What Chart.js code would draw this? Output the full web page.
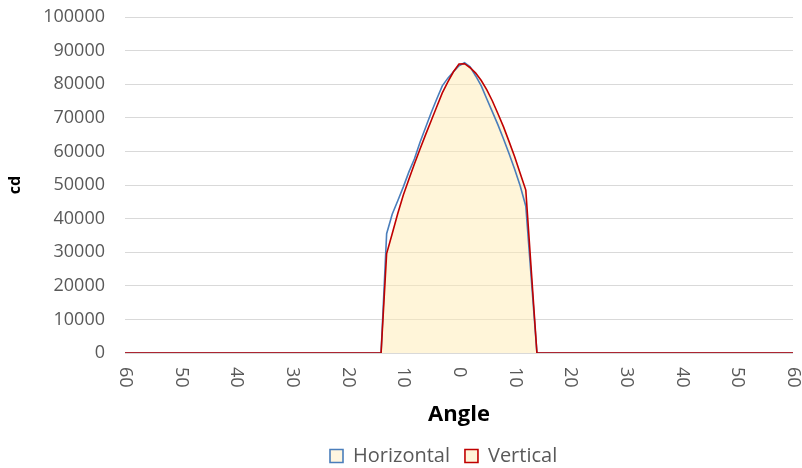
<!DOCTYPE html>
<html>
<head>
<meta charset="utf-8">
<script src="https://cdn.jsdelivr.net/npm/chart.js@4/dist/chart.umd.min.js"></script>
<style>
html,body{margin:0;padding:0;background:#ffffff;}
canvas{display:block;}
</style>
</head>
<body>
<canvas id="chart" width="802" height="468"></canvas>
<script>
// ---- data ----
const angles = [-60,-50,-40,-30,-20,-14,-13,-12,-11,-10,-9,-8,-7,-6,-5,-4,-3,-2,-1,0,1,2,3,4,5,6,7,8,9,10,11,12,14,20,30,40,50,60];
const horizontal = [0,0,0,0,0,0,35500,41300,45300,49450,53900,57800,62700,67100,71500,75600,79500,81800,83700,85500,86400,85200,82450,79500,75600,71750,67900,63700,59300,54700,49700,43700,0,0,0,0,0,0];
const vertical = [0,0,0,0,0,0,29600,35500,41500,47000,51700,56300,60700,65000,69100,73300,77400,80700,83700,86000,86100,84900,83300,81100,78300,75000,71200,67300,62900,58400,53400,48500,0,0,0,0,0,0];
const seriesNames = ['Horizontal','Vertical'];
const xTickValues = [-60,-50,-40,-30,-20,-10,0,10,20,30,40,50,60];
const xTickLabels = ['60','50','40','30','20','10','0','10','20','30','40','50','60'];
const yMin = 0, yMax = 100000, yStep = 10000;
const xTitle = 'Angle';
const yTitle = 'cd';

// ---- style ----
const FONT = '"Open Sans", "Noto Sans", sans-serif';
const TICK_COLOR = '#595959';
const BLUE = '#4A7EBB';
const RED = '#C00000';
const CREAM = 'rgba(255,236,179,0.5)';

const toPoints = (ys) => angles.map((a, i) => ({x: a, y: ys[i]}));

const xTickLabelPlugin = {
  id: 'xTickLabels',
  afterDraw(chart) {
    const {ctx, chartArea} = chart;
    const xs = chart.scales.x;
    ctx.save();
    ctx.font = '18px ' + FONT;
    ctx.fillStyle = TICK_COLOR;
    ctx.textAlign = 'left';
    ctx.textBaseline = 'middle';
    xTickValues.forEach((v, i) => {
      const px = xs.getPixelForValue(v);
      ctx.save();
      ctx.translate(px, chartArea.bottom + 14);
      ctx.rotate(Math.PI / 2);
      ctx.fillText(xTickLabels[i], 0, 0);
      ctx.restore();
    });
    ctx.restore();
  }
};

const legendPlacePlugin = {
  id: 'legendPlace',
  afterLayout(chart) {
    const lg = chart.legend;
    if (!lg || !lg.lineWidths) return;
    const pad = lg.options.labels.padding;
    const x0 = (lg.left + pad + lg.right - lg.lineWidths[0]) / 2;
    const dx = 330 - x0;
    lg.left += dx; lg.right += dx;
    const dy = 431 - lg.top;
    lg.top += dy; lg.bottom += dy;
  }
};

new Chart(document.getElementById('chart'), {
  type: 'line',
  data: {
    datasets: [
      {
        label: seriesNames[0],
        data: toPoints(horizontal),
        borderColor: BLUE,
        backgroundColor: 'rgba(255,246,224,1)',
        borderWidth: 1.6,
        pointRadius: 0,
        tension: 0,
        fill: false,
        order: 1
      },
      {
        label: seriesNames[1],
        data: toPoints(vertical),
        borderColor: RED,
        backgroundColor: CREAM,
        borderWidth: 1.6,
        pointRadius: 0,
        tension: 0,
        fill: 'origin',
        order: 0
      }
    ]
  },
  options: {
    responsive: false,
    animation: false,
    devicePixelRatio: 1,
    layout: { padding: { top: 17, right: 9, bottom: 0, left: 0 } },
    plugins: {
      filler: { drawTime: 'beforeDatasetsDraw' },
      tooltip: { enabled: false },
      legend: {
        position: 'bottom',
        labels: {
          boxWidth: 13,
          boxHeight: 13,
          padding: 15,
          color: TICK_COLOR,
          font: { family: FONT, size: 20 },
          sort: (a, b) => a.datasetIndex - b.datasetIndex
        }
      }
    },
    scales: {
      x: {
        type: 'linear',
        min: -60,
        max: 60,
        afterFit(s) { s.height = 70; s.paddingLeft = 0; s.paddingRight = 0; },
        ticks: { display: false, stepSize: 10 },
        grid: { display: false },
        border: { display: false },
        title: {
          display: true,
          text: xTitle,
          color: '#000000',
          font: { family: FONT, size: 22, weight: 'bold', lineHeight: 1 },
          padding: { top: 0, bottom: -3 }
        }
      },
      y: {
        min: yMin,
        max: yMax,
        afterFit(s) { s.width = 125; s.paddingTop = 0; s.paddingBottom = 0; },
        ticks: {
          stepSize: yStep,
          padding: 20,
          color: TICK_COLOR,
          font: { family: FONT, size: 18 },
          callback: (v) => String(v)
        },
        grid: { color: '#D9D9D9', lineWidth: 1, drawTicks: false },
        border: { display: false },
        title: {
          display: true,
          text: yTitle,
          color: '#000000',
          font: { family: FONT, size: 16, weight: 'bold', lineHeight: 1.2 },
          padding: { top: 6, bottom: 0 }
        }
      }
    }
  },
  plugins: [xTickLabelPlugin, legendPlacePlugin]
});
</script>
</body>
</html>
